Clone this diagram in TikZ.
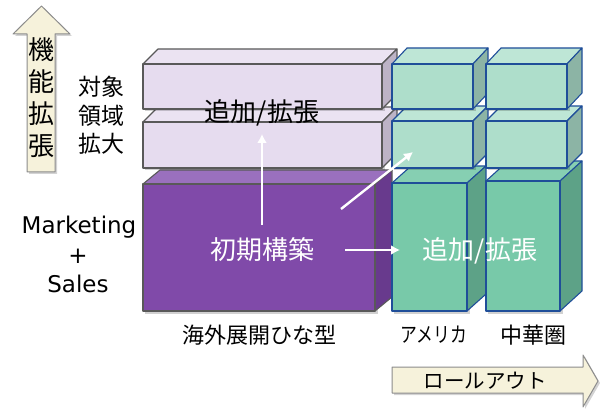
\documentclass[tikz,border=0pt]{standalone}
\usepackage{fontspec}
\setmainfont{Noto Sans CJK JP}
\newfontfamily\latinfont{DejaVu Sans}
\usetikzlibrary{shadows}
\definecolor{lavfront}{HTML}{E6DCEF}
\definecolor{lavtop}{HTML}{EBE3F2}
\definecolor{lavside}{HTML}{BDB3C6}
\definecolor{lavline}{HTML}{595959}
\definecolor{purfront}{HTML}{804AA9}
\definecolor{purtop}{HTML}{9A70BE}
\definecolor{purside}{HTML}{683A8D}
\definecolor{gsfront}{HTML}{AEDECB}
\definecolor{gstop}{HTML}{BEE6D6}
\definecolor{gsside}{HTML}{8CB4A5}
\definecolor{glfront}{HTML}{78C9A9}
\definecolor{gltop}{HTML}{86CFB2}
\definecolor{glside}{HTML}{5DA287}
\definecolor{gline}{HTML}{1F4E99}
\definecolor{arrfill}{HTML}{F6F2DB}
\definecolor{arrline}{HTML}{8C8C8C}
\newcommand\cubebox[8]{%
  \fill[black,opacity=0.18] (#1+2,#2+2) rectangle (#3+2.5,#4+2.5);
  \filldraw[draw=#8,fill=#7top,line width=1.1pt,line join=round] (#1,#2) -- (#1+#5,#2-#6) -- (#3+#5,#2-#6) -- (#3,#2) -- cycle;
  \filldraw[draw=#8,fill=#7side,line width=1.1pt,line join=round] (#3,#2) -- (#3+#5,#2-#6) -- (#3+#5,#4-#6) -- (#3,#4) -- cycle;
  \filldraw[draw=#8,fill=#7front,line width=1.1pt,line join=round] (#1,#2) rectangle (#3,#4);
}
\tikzset{
  bigtxt/.style={inner sep=0pt,font=\fontsize{26}{30}\selectfont},
  midtxt/.style={inner sep=0pt,font=\fontsize{22}{26}\selectfont},
  lattxt/.style={inner sep=0pt,font=\latinfont\fontsize{23}{27}\selectfont},
  vtxt/.style={inner sep=0pt,font=\fontsize{26}{30}\selectfont},
  whitearrow/.style={draw=white,line width=2.4pt,-{Latex[length=9pt,width=10pt]}},
  bigarrow/.style={draw=arrline,fill=arrfill,line width=1pt,line join=round,drop shadow={opacity=0.35,shadow xshift=2pt,shadow yshift=-2pt}}
}
\usetikzlibrary{arrows.meta}
\begin{document}
\begin{tikzpicture}[x=1pt,y=-1pt]
\useasboundingbox (0,0) rectangle (600,409);
% up arrow
\path[bigarrow] (27,172) -- (27,34) -- (13,34) -- (41.5,6) -- (70,34) -- (55,34) -- (55,172) -- cycle;
\node[vtxt] (v1) at (41,50) {機};
\node[vtxt] (v2) at (41,82) {能};
\node[vtxt] (v3) at (41,114) {拡};
\node[vtxt] (v4) at (41,146) {張};
% right arrow
\path[bigarrow] (392,367) -- (583,367) -- (583,355) -- (598,381) -- (583,407) -- (583,393) -- (392,393) -- cycle;
\node[font=\fontsize{20.5}{24}\selectfont,inner sep=0pt] (ro) at (485,381) {ロールアウト};
% left labels
\node[midtxt,font=\fontsize{23}{26}\selectfont] (t1) at (101.5,87) {対象};
\node[midtxt,font=\fontsize{23}{26}\selectfont] (t2) at (101.5,115.5) {領域};
\node[midtxt,font=\fontsize{23}{26}\selectfont] (t3) at (101.5,144) {拡大};
\node[lattxt] (m1) at (79,227) {Marketing};
\node[lattxt] (m2) at (78,256) {+};
\node[lattxt] (m3) at (78,284) {Sales};
% purple / lavender stack
\cubebox{143}{184}{375}{311}{17}{14}{pur}{lavline}
\cubebox{143}{122}{382}{168}{15}{15}{lav}{lavline}
\cubebox{143}{64}{382}{109}{15}{15}{lav}{lavline}
% green column 1
\cubebox{392}{183}{467}{311}{19}{17}{gl}{gline}
\cubebox{392}{121}{473}{168}{15}{15}{gs}{gline}
\cubebox{392}{64}{473}{109}{15}{16}{gs}{gline}
% green column 2
\cubebox{486}{181}{560}{311}{22}{20}{gl}{gline}
\cubebox{486}{121}{567}{168}{15}{15}{gs}{gline}
\cubebox{486}{64}{567}{109}{15}{16}{gs}{gline}
% texts on boxes
\node[bigtxt] (add1) at (262,113) {追加/拡張};
\node[bigtxt,text=white] (init) at (262,250) {初期構築};
\node[bigtxt,text=white] (add2) at (480,251) {追加/拡張};
% bottom labels
\node[midtxt] (b1) at (259,335) {海外展開ひな型};
\node[midtxt,font=\fontsize{21}{24}\selectfont,xscale=0.8] (b2) at (434,335) {アメリカ};
\node[midtxt] (b3) at (533,335) {中華圏};
% white arrows
\coordinate (a1s) at (262,225);
\coordinate (a1e) at (262,134);
\coordinate (a2s) at (341,209);
\coordinate (a2e) at (413,152);
\coordinate (a3s) at (345,250);
\coordinate (a3e) at (400,250);
\draw[whitearrow] (a1s) -- (a1e);
\draw[whitearrow] (a2s) -- (a2e);
\draw[whitearrow] (a3s) -- (a3e);
\end{tikzpicture}
\end{document}
